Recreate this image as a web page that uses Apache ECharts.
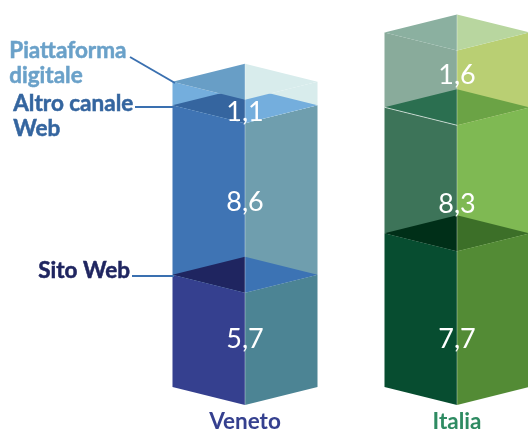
<!DOCTYPE html>
<html><head><meta charset="utf-8">
<style>html,body{margin:0;padding:0;background:#fff;overflow:hidden}#c{width:528px;height:430px}</style>
<script src="https://cdn.jsdelivr.net/npm/echarts@6/dist/echarts.min.js"></script>
</head><body><div id="c"></div>
<script>
// Regions and printed values (bottom to top)
const categories = ['Veneto', 'Italia'];
const channels = ['Sito Web', 'Altro canale Web', 'Piattaforma digitale'];
const venetoValues = [5.7, 8.6, 1.1];
const italiaValues = [7.7, 8.3, 1.6];
// The reference's Italia column is not drawn to the same scale as its printed numbers:
// these are the heights as measured in the picture, in the same axis units.
const venetoDrawn = [5.7, 8.6, 1.2];
const italiaDrawn = [7.8, 6.4, 3.8];

const faceColors = [
  [['#35408F', '#4C8494'], ['#3F74B4', '#6F9EAE'], ['#74AEDD', '#D8ECEC']],
  [['#074D30', '#538B35'], ['#3D7459', '#7FB953'], ['#89AB9B', '#B9CF73']]
];
const capColors = [
  [['#1F2560', '#3C73B4'], ['#35659F', '#74AEDD'], ['#689EC6', '#D8ECEC']],
  [['#002F18', '#3C6F28'], ['#2B6F50', '#6BA345'], ['#8BB0A0', '#B8D69F']]
];
const labelShift = [[-10, -6, 1], [11, 16, -13]];
const categoryColors = ['#35408F', '#2E8B62'];
const DEPTH = 18, HALF_RATIO = 0.342;

const fmt = v => String(v).replace('.', ',');

function renderColumn(params, api) {
  const cat = api.value(0);
  const c = api.value(0);
  const half = api.size([1, 0])[0] * HALF_RATIO;
  const drawn = [api.value(1), api.value(2), api.value(3)];
  const printed = [api.value(4), api.value(5), api.value(6)];
  const cx = api.coord([c, 0])[0];
  const children = [], caps = [], texts = [];
  let base = 0;
  const poly = (pts, fill) => ({type: 'polygon', shape: {points: pts}, style: {fill: fill}});
  drawn.forEach((h, i) => {
    const top = base + h;
    const y0 = api.coord([c, base])[1], y1 = api.coord([c, top])[1];
    children.push(poly([[cx - half, y1], [cx, y1 + DEPTH], [cx, y0 + DEPTH], [cx - half, y0]], faceColors[cat][i][0]));
    children.push(poly([[cx, y1 + DEPTH], [cx + half, y1], [cx + half, y0], [cx, y0 + DEPTH]], faceColors[cat][i][1]));
    caps.push(poly([[cx - half, y1], [cx, y1 - DEPTH], [cx, y1 + DEPTH]], capColors[cat][i][0]));
    caps.push(poly([[cx, y1 - DEPTH], [cx + half, y1], [cx, y1 + DEPTH]], capColors[cat][i][1]));
    texts.push({type: 'text', style: {
      text: fmt(printed[i]), x: cx, y: (y0 + y1) / 2 + DEPTH + labelShift[cat][i],
      fill: '#fff', font: '27px Lato', align: 'center', verticalAlign: 'middle'
    }});
    base = top;
  });
  const yTop = api.coord([c, base])[1], yBot = api.coord([c, 0])[1];
  const lines = [{type: 'line', shape: {x1: cx, y1: yTop - DEPTH, x2: cx, y2: yBot + DEPTH},
    style: {stroke: 'rgba(255,255,255,0.45)', lineWidth: 0.8}}];
  if (cat === 1) {
    const ym = api.coord([c, drawn[0] + drawn[1]])[1];
    lines.push({type: 'line', shape: {x1: cx - half, y1: ym, x2: cx, y2: ym + DEPTH},
      style: {stroke: 'rgba(255,255,255,0.8)', lineWidth: 0.8}});
  }
  return {type: 'group', children: children.concat(caps, lines, texts)};
}

const seriesData = categories.map((n, i) => {
  const d = i === 0 ? venetoDrawn : italiaDrawn;
  const v = i === 0 ? venetoValues : italiaValues;
  return [i, d[0], d[1], d[2], v[0], v[1], v[2]];
});

const labelFont = 'bold 22.5px Lato';
const annotation = (text, left, top, fill) => ({
  type: 'text', left: left, top: top, z: 10,
  style: {text: text, fill: fill, stroke: fill, lineWidth: 0.5, font: labelFont, lineHeight: 25}
});
const chart = echarts.init(document.getElementById('c'), null, {renderer: 'canvas'});
chart.setOption({
  animation: false,
  backgroundColor: '#fff',
  grid: {left: 139, width: 424, top: 12.7, height: 374.3, outerBoundsMode: 'none'},
  xAxis: {
    type: 'category', data: categories,
    axisLine: {show: false}, axisTick: {show: false}, splitLine: {show: false},
    axisLabel: {
      margin: 23, fontFamily: 'Lato', fontWeight: 'bold', fontSize: 22.5,
      color: (v, i) => categoryColors[i]
    }
  },
  yAxis: {type: 'value', min: 0, max: 19, show: false},
  series: [{
    type: 'custom', renderItem: renderColumn, clip: false,
    encode: {x: 0, y: 1}, data: seriesData
  }],
  graphic: [
    {type: 'line', shape: {x1: 130, y1: 57, x2: 175, y2: 83}, style: {stroke: '#3A70B0', lineWidth: 2}, z: 10},
    {type: 'line', shape: {x1: 135, y1: 107, x2: 174, y2: 107}, style: {stroke: '#3A70B0', lineWidth: 2}, z: 10},
    {type: 'line', shape: {x1: 132, y1: 276, x2: 174, y2: 276}, style: {stroke: '#3A70B0', lineWidth: 2}, z: 10},
    annotation('Piattaforma\ndigitale', 9, 38, '#6AA1C9'),
    annotation('Altro canale\nWeb', 13, 91, '#34659F'),
    annotation('Sito Web', 38, 258, '#1F2560')
  ]
});
</script></body></html>
